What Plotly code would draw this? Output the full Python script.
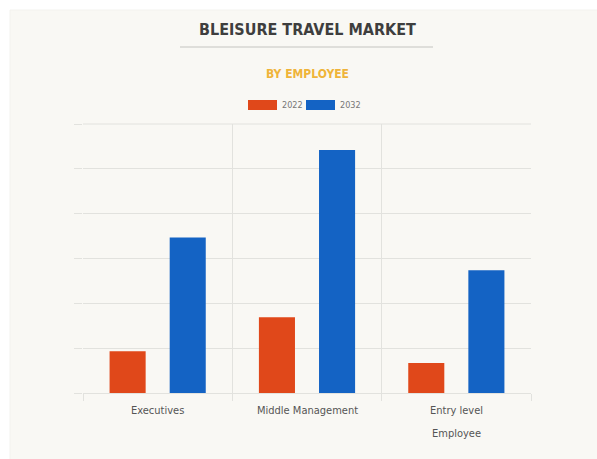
import plotly.graph_objects as go

# Bleisure travel market, split by employee level
categories = ["Executives", "Middle Management", "Entry level<br>Employee"]
series_names = ["2022", "2032"]
values_2022 = [0.93, 1.69, 0.67]
values_2032 = [3.47, 5.42, 2.74]
series_colors = ["#e0481a", "#1463c4"]

NARROW = "Liberation Sans Narrow, DejaVu Sans Condensed, Arial Narrow, sans-serif"
W, H = 597, 459
GRID = "#e2e2de"

fig = go.Figure()
for name, vals, color in zip(series_names, [values_2022, values_2032], series_colors):
    fig.add_trace(go.Bar(
        x=categories, y=vals, name=name,
        marker=dict(color=color, line=dict(width=0)),
        showlegend=False,
    ))

fig.update_layout(
    width=W, height=H, autosize=False,
    margin=dict(l=83, r=66, t=124, b=66),
    paper_bgcolor="#ffffff",
    plot_bgcolor="rgba(0,0,0,0)",
    barmode="group",
    bargap=0.195,
    bargroupgap=0.4,
    font=dict(family=NARROW, color="#555555"),
)

fig.update_xaxes(
    tickson="boundaries",
    showgrid=True, gridcolor=GRID, gridwidth=1,
    ticks="outside", ticklen=7, tickcolor=GRID,
    showticklabels=False,
    showline=False, zeroline=False,
)
fig.update_yaxes(
    range=[0, 6], dtick=1,
    showgrid=True, gridcolor=GRID, gridwidth=1,
    ticks="outside", ticklen=8, tickcolor=GRID,
    showticklabels=False,
    showline=False, zeroline=True, zerolinecolor=GRID, zerolinewidth=1,
)

def py(pix):
    return (393 - pix) / 269

def px(pix):
    return (pix - 83) / 448

# off-white card behind the chart, running off the right and bottom edges
fig.add_shape(type="rect", xref="paper", yref="paper", layer="below",
              x0=px(10), x1=px(600), y0=py(462), y1=py(10),
              fillcolor="#f9f8f4", line=dict(color="#f3f2ee", width=1))

# top gridline of the plot area
fig.add_shape(type="line", xref="paper", yref="paper", layer="below",
              x0=0, x1=1, y0=1, y1=1, line=dict(color=GRID, width=1))

# title, rule and subtitle
fig.add_annotation(xref="paper", yref="paper", x=px(307), y=py(29),
                   text="<b>BLEISURE TRAVEL MARKET</b>", showarrow=False,
                   font=dict(family=NARROW, size=16, color="#3e3e3e"),
                   xanchor="center", yanchor="middle")
fig.add_shape(type="line", xref="paper", yref="paper",
              x0=px(180), x1=px(433), y0=py(47), y1=py(47),
              line=dict(color="#c4c4c0", width=1))
fig.add_annotation(xref="paper", yref="paper", x=px(307), y=py(74),
                   text="<b>BY EMPLOYEE</b>", showarrow=False,
                   font=dict(family=NARROW, size=12, color="#efb43a"),
                   xanchor="center", yanchor="middle")

# legend swatches
legend_x = [248, 306]
for name, color, lx in zip(series_names, series_colors, legend_x):
    fig.add_shape(type="rect", xref="paper", yref="paper",
                  x0=px(lx), x1=px(lx + 29), y0=py(110), y1=py(100),
                  fillcolor=color, line=dict(width=0))
    fig.add_annotation(xref="paper", yref="paper", x=px(lx + 32), y=py(105),
                       text=name, showarrow=False,
                       font=dict(family=NARROW, size=9, color="#777777"),
                       xanchor="left", yanchor="middle")

# category labels, one annotation per text line
for cat in categories:
    for i, line in enumerate(cat.split("<br>")):
        fig.add_annotation(xref="x", yref="paper", x=cat, y=py(410 + 23 * i),
                           text=line, showarrow=False,
                           font=dict(family=NARROW, size=11, color="#555555"),
                           xanchor="center", yanchor="middle")

fig.write_html("out.html")
